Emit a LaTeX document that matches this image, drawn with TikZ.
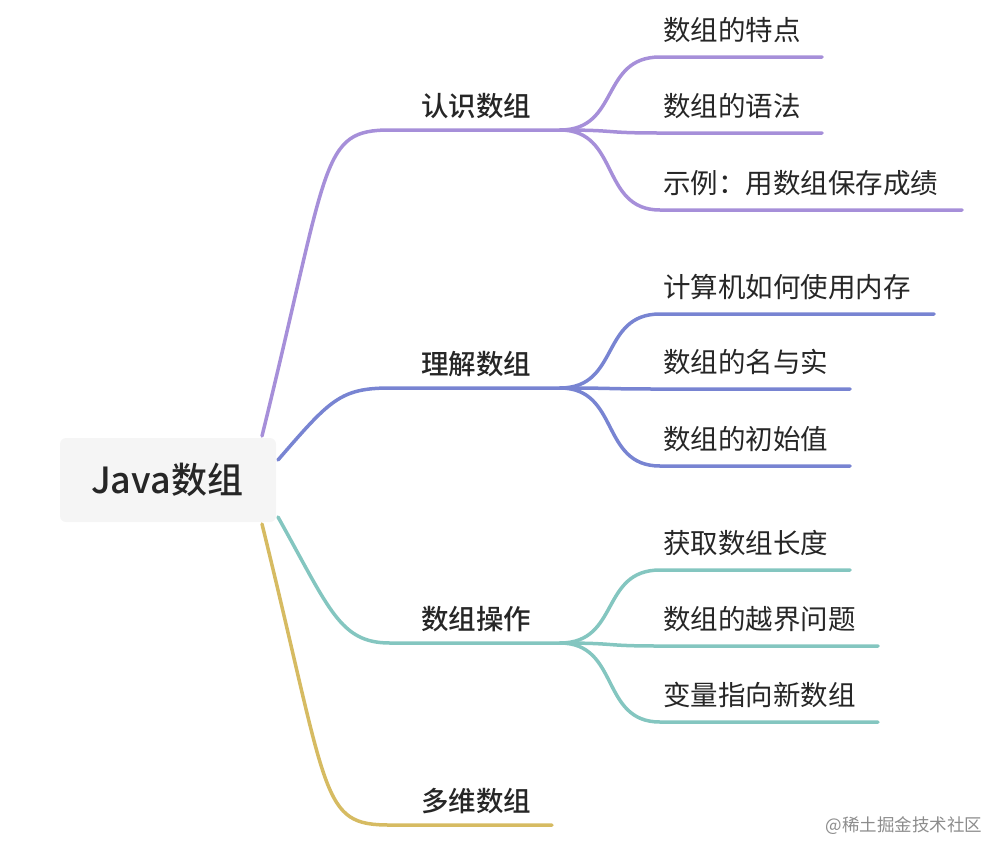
\documentclass[tikz,border=0pt]{standalone}
\usepackage{fontspec}
\newfontfamily\cjk{Noto Sans CJK SC}
\newfontfamily\cjkm{Noto Sans CJK SC Medium}
\definecolor{cA}{HTML}{A68FD9}
\definecolor{cB}{HTML}{7884D2}
\definecolor{cC}{HTML}{84C6C0}
\definecolor{cD}{HTML}{D6BB62}
\tikzset{br/.style={line width=3.5pt,line cap=round},
lbl/.style={anchor=base west,inner sep=0pt,font=\cjk\fontsize{27.5}{30}\selectfont,text=black!85},
lbm/.style={lbl,font=\cjkm\fontsize{27.5}{30}\selectfont}}
\begin{document}
\begin{tikzpicture}[x=1pt,y=-1pt]
\useasboundingbox (0,0) rectangle (1008,860);
\node[fill=black!4,rounded corners=6pt,minimum width=216pt,minimum height=84pt] (root) at (168,480) {};
\node[font=\cjkm\fontsize{36}{40}\selectfont,text=black!85] at (167,480) {Java数组};
% level 1
\coordinate (a) at (560,130); \coordinate (b) at (560,388); \coordinate (c) at (560,643); \coordinate (d) at (552,825);
\draw[br,cA] (262,436) .. controls (330,160) and (320,130) .. (390,130) -- (a);
\draw[br,cB] (278,460) .. controls (330,400) and (340,388) .. (390,388) -- (b);
\draw[br,cC] (278,517) .. controls (330,610) and (340,643) .. (390,643) -- (c);
\draw[br,cD] (262,524) .. controls (330,800) and (320,825) .. (390,825) -- (d);
\node[lbm] (t1) at (421,116) {认识数组};
\node[lbm] (t2) at (421,374) {理解数组};
\node[lbm] (t3) at (421,629) {数组操作};
\node[lbm] (t4) at (421,811) {多维数组};
% level 2
\foreach \y/\e/\t in {57/822/数组的特点,133/822/数组的语法,210/962/示例：用数组保存成绩}{
\draw[br,cA] (a) .. controls (620,130) and (600,\y) .. (660,\y) -- (\e,\y);
\node[lbl] at (663,\y-17) {\t};}
\foreach \y/\e/\t in {314/934/计算机如何使用内存,389/850/数组的名与实,466/850/数组的初始值}{
\draw[br,cB] (b) .. controls (620,388) and (600,\y) .. (660,\y) -- (\e,\y);
\node[lbl] at (663,\y-17) {\t};}
\foreach \y/\e/\t in {570/850/获取数组长度,646/878/数组的越界问题,722/878/变量指向新数组}{
\draw[br,cC] (c) .. controls (620,643) and (600,\y) .. (660,\y) -- (\e,\y);
\node[lbl] at (663,\y-17) {\t};}
\node[font=\cjk\fontsize{17.5}{19}\selectfont,text=black!45,anchor=east] (wm) at (986,826) {@稀土掘金技术社区};
\end{tikzpicture}
\end{document}
